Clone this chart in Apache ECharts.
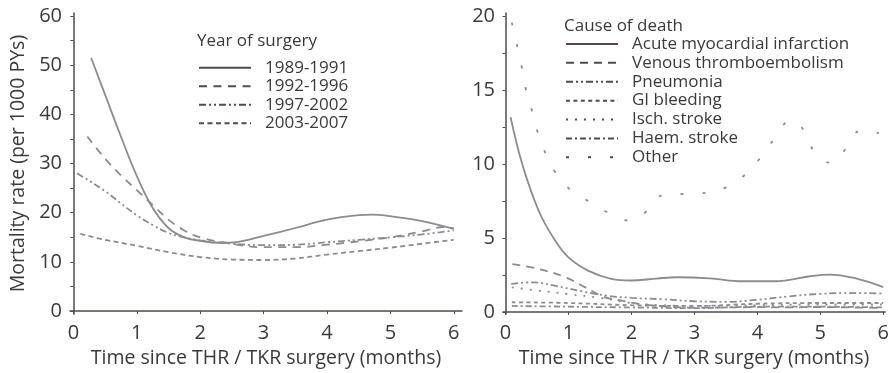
<!DOCTYPE html>
<html><head><meta charset="utf-8">
<script src="https://cdn.jsdelivr.net/npm/echarts@6/dist/echarts.min.js"></script>
<style>html,body{margin:0;padding:0;background:#fff}#c{width:892px;height:373px}</style>
</head><body><div id="c"></div>
<script>
// ---- Left panel: Year of surgery ----
var yearNames = ['1989-1991', '1992-1996', '1997-2002', '2003-2007'];
var y8991_x = [0.28, 0.5, 0.75, 1.0, 1.25, 1.5, 1.75, 2.0, 2.3, 2.6, 3.0, 3.5, 4.0, 4.5, 4.7, 5.0, 5.5, 6.0];
var y8991_y = [51.5, 44, 35.5, 27.5, 21, 16.9, 15.0, 14.3, 13.9, 14.1, 15.3, 16.9, 18.6, 19.5, 19.6, 19.3, 18.3, 16.7];
var y9296_x = [0.22, 0.5, 0.75, 1.0, 1.25, 1.5, 1.75, 2.0, 2.5, 3.0, 3.5, 4.0, 4.5, 5.0, 5.5, 5.85, 6.0];
var y9296_y = [35.5, 31, 27.6, 24.6, 21.6, 18.6, 16.4, 15.0, 13.7, 13.0, 13.0, 13.5, 14.2, 15.0, 16.2, 17.1, 16.8];
var y9702_x = [0.06, 0.25, 0.5, 0.75, 1.0, 1.25, 1.5, 1.75, 2.0, 2.5, 3.0, 3.5, 4.0, 4.5, 5.0, 5.5, 6.0];
var y9702_y = [28, 26.5, 24.4, 21.9, 19.5, 17.5, 15.9, 15.0, 14.4, 13.7, 13.4, 13.5, 14.0, 14.5, 15.0, 15.6, 16.4];
var y0307_x = [0.11, 0.5, 1.0, 1.5, 2.0, 2.5, 3.0, 3.5, 4.0, 4.5, 5.0, 5.5, 6.0];
var y0307_y = [15.7, 14.5, 13.3, 12.0, 11.0, 10.5, 10.4, 10.7, 11.5, 12.2, 12.9, 13.7, 14.5];

// ---- Right panel: Cause of death ----
var causeNames = ['Acute myocardial infarction', 'Venous thromboembolism', 'Pneumonia', 'GI bleeding', 'Isch. stroke', 'Haem. stroke', 'Other'];
var ami_x = [0.08, 0.27, 0.53, 0.79, 1.0, 1.31, 1.68, 1.99, 2.4, 2.72, 3.24, 3.77, 4.29, 4.81, 5.15, 5.59, 6.0];
var ami_y = [13.16, 9.92, 6.8, 4.8, 3.68, 2.79, 2.23, 2.12, 2.25, 2.34, 2.27, 2.07, 2.07, 2.39, 2.52, 2.23, 1.67];
var vte_x = [0.11, 0.53, 0.95, 1.26, 1.57, 1.83, 2.1, 2.5, 3.0, 3.5, 4.0, 4.5, 5.0, 5.5, 6.0];
var vte_y = [3.23, 2.9, 2.34, 1.67, 1.0, 0.78, 0.55, 0.38, 0.28, 0.3, 0.32, 0.3, 0.33, 0.3, 0.27];
var pneu_x = [0.09, 0.43, 0.8, 1.2, 1.6, 2.0, 2.5, 3.0, 3.5, 4.0, 4.5, 5.0, 5.5, 6.0];
var pneu_y = [1.89, 2.0, 1.75, 1.4, 1.1, 0.95, 0.85, 0.72, 0.68, 0.82, 1.05, 1.22, 1.27, 1.25];
var gi_x = [0.1, 1.0, 2.0, 3.0, 4.0, 5.0, 6.0];
var gi_y = [0.65, 0.6, 0.45, 0.4, 0.55, 0.6, 0.6];
var isch_x = [0.1, 0.5, 1.0, 1.5, 2.0, 2.5, 3.0, 4.0, 5.0, 6.0];
var isch_y = [1.65, 1.45, 1.2, 0.95, 0.6, 0.45, 0.4, 0.45, 0.5, 0.5];
var haem_x = [0.1, 1.0, 2.0, 3.0, 4.0, 5.0, 6.0];
var haem_y = [0.4, 0.35, 0.3, 0.25, 0.35, 0.35, 0.3];
var oth_x = [0.1, 0.18, 0.26, 0.32, 0.42, 0.51, 0.63, 0.79, 1.03, 1.32, 1.64, 1.97, 2.26, 2.51, 2.86, 3.23, 3.55, 3.84, 4.08, 4.29, 4.52, 4.75, 4.91, 5.16, 5.42, 5.64, 5.93];
var oth_y = [19.55, 18.06, 16.5, 15.1, 13.6, 12.15, 10.77, 9.43, 8.25, 7.47, 6.69, 6.17, 6.87, 7.91, 7.98, 8.07, 8.52, 9.41, 10.59, 11.82, 12.93, 12.22, 10.77, 10.08, 11.1, 12.26, 12.09];

var xTicks = [0, 1, 2, 3, 4, 5, 6];
var leftYLabels = [0, 10, 20, 30, 40, 50, 60];
var leftYTicks = [0, 5, 10, 15, 20, 25, 30, 35, 40, 45, 50, 55, 60];
var rightYLabels = [0, 5, 10, 15, 20];
var rightYTicks = [0, 2.5, 5, 7.5, 10, 12.5, 15, 17.5, 20];

function pairs(xs, ys) { return xs.map(function (x, i) { return [x, ys[i]]; }); }

var LINE = '#8c8c90', AXIS = '#524b48', TXT = '#3a3a3a', FONT = 'Open Sans';
var FS_TICK = 20, FS_NAME = 19.5, FS_LEG = 17;

function xAxisCfg(idx, min, max) {
  return {
    type: 'value', gridIndex: idx, min: min, max: max,
    name: 'Time since THR / TKR surgery (months)', nameLocation: 'middle', nameGap: 33,
    nameTextStyle: { fontFamily: FONT, fontSize: FS_NAME, color: TXT },
    axisLine: { show: true, lineStyle: { color: AXIS, width: 1.5 } },
    axisTick: { show: true, length: 3, customValues: xTicks, lineStyle: { color: AXIS, width: 1 } },
    axisLabel: { customValues: xTicks, fontFamily: FONT, fontSize: FS_TICK, color: TXT, margin: 9 },
    splitLine: { show: false }
  };
}
function yAxisCfg(idx, min, max, labels, ticks, name) {
  return {
    type: 'value', gridIndex: idx, min: min, max: max,
    name: name || '', nameLocation: 'middle', nameGap: 42, nameRotate: 90,
    nameTextStyle: { fontFamily: FONT, fontSize: FS_NAME, color: TXT },
    axisLine: { show: true, lineStyle: { color: AXIS, width: 1.5 } },
    axisTick: { show: true, length: 3, customValues: ticks, lineStyle: { color: AXIS, width: 1 } },
    axisLabel: { customValues: labels, fontFamily: FONT, fontSize: FS_TICK, color: TXT, margin: 8 },
    splitLine: { show: false }
  };
}
function line(name, xi, data, dash) {
  return {
    type: 'line', name: name, xAxisIndex: xi, yAxisIndex: xi, data: data,
    smooth: 0.4, symbol: 'none', silent: true,
    lineStyle: { color: LINE, width: 1.8, type: dash || 'solid', cap: 'butt' },
    itemStyle: { color: LINE }
  };
}
var legendCommon = {
  orient: 'vertical', padding: 0, itemWidth: 52, itemHeight: 10, itemGap: 0,
  itemStyle: { color: 'rgba(0,0,0,0)', borderWidth: 0, opacity: 0 },
  lineStyle: { width: 2, color: '#524b48' }
};

var chart = echarts.init(document.getElementById('c'), null, { renderer: 'canvas' });
chart.setOption({
  animation: false,
  backgroundColor: '#fff',
  grid: [
    { left: 70, top: 13, width: 392, height: 304 },
    { left: 503, top: 13, width: 388, height: 304 }
  ],
  xAxis: [xAxisCfg(0, -0.053, 6.13), xAxisCfg(1, -0.04, 6.03)],
  yAxis: [
    yAxisCfg(0, -0.6, 60.6, leftYLabels, leftYTicks, 'Mortality rate (per 1000 PYs)'),
    yAxisCfg(1, -0.15, 20.2, rightYLabels, rightYTicks, '')
  ],
  title: [
    { text: 'Year of surgery', left: 197, top: 33, textStyle: { fontFamily: FONT, fontSize: FS_LEG, fontWeight: 'normal', color: TXT }, padding: 0 },
    { text: 'Cause of death', left: 564, top: 18, textStyle: { fontFamily: FONT, fontSize: FS_LEG, fontWeight: 'normal', color: TXT }, padding: 0 }
  ],
  legend: [
    Object.assign({}, legendCommon, {
      data: yearNames, left: 198, top: 58.5,
      textStyle: { fontFamily: FONT, fontSize: FS_LEG, color: TXT, lineHeight: 18.5, padding: [0, 0, 0, 9] }
    }),
    Object.assign({}, legendCommon, {
      data: causeNames, left: 565, top: 34.5,
      textStyle: { fontFamily: FONT, fontSize: FS_LEG, color: TXT, lineHeight: 18.9, padding: [0, 0, 0, 9] }
    })
  ],
  series: [
    line(yearNames[0], 0, pairs(y8991_x, y8991_y), 'solid'),
    line(yearNames[1], 0, pairs(y9296_x, y9296_y), [8, 6.5]),
    line(yearNames[2], 0, pairs(y9702_x, y9702_y), [7, 3, 2, 3, 2, 3]),
    line(yearNames[3], 0, pairs(y0307_x, y0307_y), [5, 3.5]),
    line(causeNames[0], 1, pairs(ami_x, ami_y), 'solid'),
    line(causeNames[1], 1, pairs(vte_x, vte_y), [8, 6]),
    line(causeNames[2], 1, pairs(pneu_x, pneu_y), [7, 3, 2, 3, 2, 3]),
    line(causeNames[3], 1, pairs(gi_x, gi_y), [4, 3.4]),
    line(causeNames[4], 1, pairs(isch_x, isch_y), [2, 7]),
    line(causeNames[5], 1, pairs(haem_x, haem_y), [6, 3, 2, 3]),
    line(causeNames[6], 1, pairs(oth_x, oth_y), [3, 19])
  ]
});
</script></body></html>
